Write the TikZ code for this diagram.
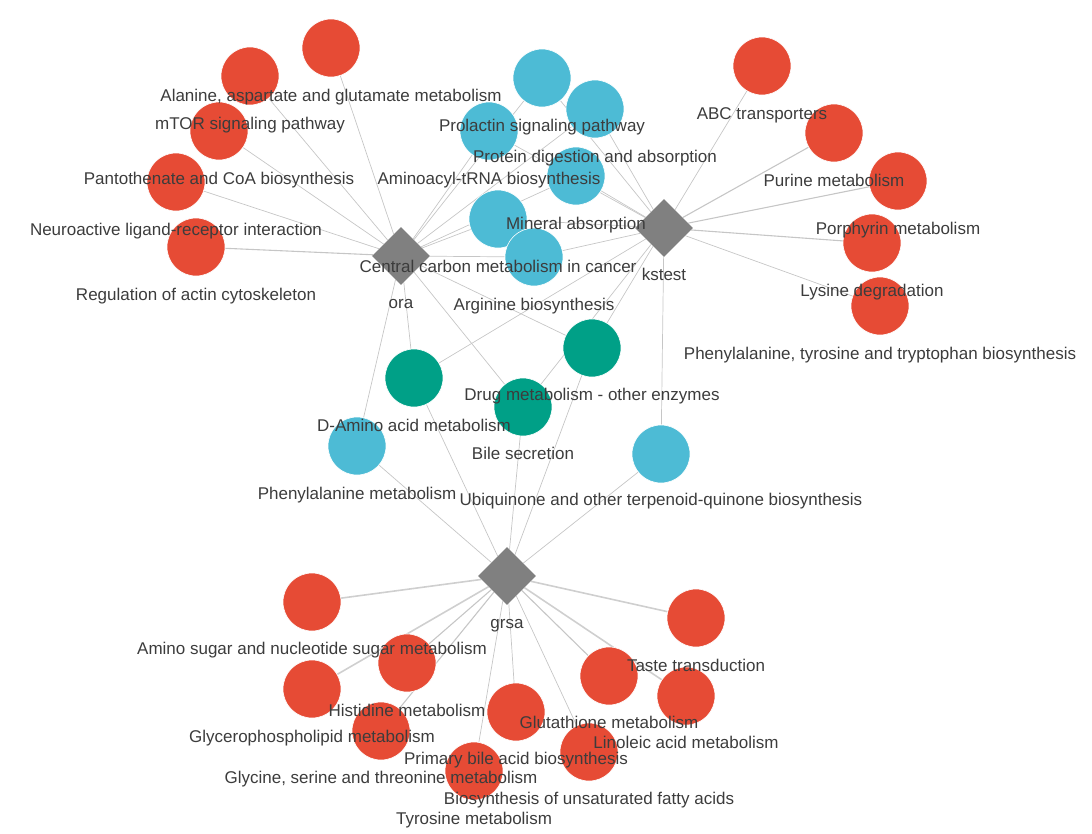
\documentclass[tikz,border=0pt]{standalone}
\usepackage{fontspec}
\setmainfont{Liberation Sans}
\usetikzlibrary{shapes.geometric, backgrounds}

\definecolor{npgred}{HTML}{E64B35}
\definecolor{npgblue}{HTML}{4DBBD5}
\definecolor{npggreen}{HTML}{00A087}
\definecolor{hubgray}{HTML}{808080}
\definecolor{txtgray}{HTML}{3C3C3C}
\definecolor{edgegray}{HTML}{C6C6C6}

\begin{document}
\begin{tikzpicture}[
  x=1pt, y=-1pt,
  font=\fontsize{17}{20}\selectfont,
  term/.style={circle, fill=#1, draw=white, line width=0.6pt,
               minimum size=58pt, inner sep=0pt},
  hub/.style={diamond, fill=hubgray, aspect=1, minimum size=58pt, inner sep=0pt},
  lbl/.style={text=txtgray, inner sep=0pt, text height=12pt, text depth=3.5pt},
  edge/.style={draw=edgegray, line width=0.7pt},
  edgem/.style={draw=edgegray, line width=1.1pt},
  edgew/.style={draw=edgegray!85, line width=1.6pt},
]
\useasboundingbox (0,0) rectangle (1092,833);

% ================= HUBS (explicit coords, px) =================
\node[hub]                (ora)     at (401,256)  {};
\node[hub]                (kstest)  at (664,228)  {};
\node[hub]                (grsa)    at (507,576)  {};

% ================= TERMS: ora only =================
\node[term=npgred]        (ala)     at (331,48)   {};
\node[term=npgred]        (mtor)    at (250,76)   {};
\node[term=npgred]        (panto)   at (219,131)  {};
\node[term=npgred]        (neuro)   at (176,182)  {};
\node[term=npgred]        (actin)   at (196,247)  {};

% ================= TERMS: ora + kstest =================
\node[term=npgblue]       (prl)     at (542,78)   {};
\node[term=npgblue]       (prot)    at (595,109)  {};
\node[term=npgblue]       (trna)    at (489,131)  {};
\node[term=npgblue]       (mineral) at (576,176)  {};
\node[term=npgblue]       (ccm)     at (498,219)  {};
\node[term=npgblue]       (arg)     at (534,257)  {};

% ================= TERMS: kstest only =================
\node[term=npgred]        (abc)     at (762,66)   {};
\node[term=npgred]        (purine)  at (834,133)  {};
\node[term=npgred]        (porph)   at (898,181)  {};
\node[term=npgred]        (lys)     at (872,243)  {};
\node[term=npgred]        (phetrp)  at (880,306)  {};

% ================= TERMS: shared by all three =================
\node[term=npggreen]      (damino)  at (414,378)  {};
\node[term=npggreen]      (drug)    at (592,348)  {};
\node[term=npggreen]      (bile)    at (523,407)  {};

% ================= TERMS: grsa + one other =================
\node[term=npgblue]       (phe)     at (357,446)  {};
\node[term=npgblue]       (ubiq)    at (661,454)  {};

% ================= TERMS: grsa only =================
\node[term=npgred]        (amino)   at (312,602)  {};
\node[term=npgred]        (taste)   at (696,618)  {};
\node[term=npgred]        (his)     at (407,663)  {};
\node[term=npgred]        (glycero) at (312,689)  {};
\node[term=npgred]        (gsh)     at (609,676)  {};
\node[term=npgred]        (linol)   at (686,696)  {};
\node[term=npgred]        (pbab)    at (516,712)  {};
\node[term=npgred]        (gly)     at (381,731)  {};
\node[term=npgred]        (ufa)     at (589,752)  {};
\node[term=npgred]        (tyr)     at (474,771)  {};

% ================= LABELS (about 48px under each node) =================
\node[lbl] (oraT)     at ([yshift=-48pt]ora)     {ora};
\node[lbl] (kstestT)  at ([yshift=-48pt]kstest)  {kstest};
\node[lbl] (grsaT)    at ([yshift=-48pt]grsa)    {grsa};

\node[lbl] (alaT)     at ([yshift=-49pt]ala)     {Alanine, aspartate and glutamate metabolism};
\node[lbl] (mtorT)    at ([yshift=-49pt]mtor)    {mTOR signaling pathway};
\node[lbl] (pantoT)   at ([yshift=-49pt]panto)   {Pantothenate and CoA biosynthesis};
\node[lbl] (neuroT)   at ([yshift=-49pt]neuro)   {Neuroactive ligand-receptor interaction};
\node[lbl] (actinT)   at ([yshift=-49pt]actin)   {Regulation of actin cytoskeleton};

\node[lbl] (prlT)     at ([yshift=-49pt]prl)     {Prolactin signaling pathway};
\node[lbl] (protT)    at ([yshift=-49pt]prot)    {Protein digestion and absorption};
\node[lbl] (trnaT)    at ([yshift=-49pt]trna)    {Aminoacyl-tRNA biosynthesis};
\node[lbl] (mineralT) at ([yshift=-49pt]mineral) {Mineral absorption};
\node[lbl] (ccmT)     at ([yshift=-49pt]ccm)     {Central carbon metabolism in cancer};
\node[lbl] (argT)     at ([yshift=-49pt]arg)     {Arginine biosynthesis};

\node[lbl] (abcT)     at ([yshift=-49pt]abc)     {ABC transporters};
\node[lbl] (purineT)  at ([yshift=-49pt]purine)  {Purine metabolism};
\node[lbl] (porphT)   at ([yshift=-49pt]porph)   {Porphyrin metabolism};
\node[lbl] (lysT)     at ([yshift=-49pt]lys)     {Lysine degradation};
\node[lbl] (phetrpT)  at ([yshift=-49pt]phetrp)  {Phenylalanine, tyrosine and tryptophan biosynthesis};

\node[lbl] (daminoT)  at ([yshift=-49pt]damino)  {D-Amino acid metabolism};
\node[lbl] (drugT)    at ([yshift=-48pt]drug)    {Drug metabolism - other enzymes};
\node[lbl] (bileT)    at ([yshift=-48pt]bile)    {Bile secretion};
\node[lbl] (pheT)     at ([yshift=-49pt]phe)     {Phenylalanine metabolism};
\node[lbl] (ubiqT)    at ([yshift=-47pt]ubiq)    {Ubiquinone and other terpenoid-quinone biosynthesis};

\node[lbl] (aminoT)   at ([yshift=-48pt]amino)   {Amino sugar and nucleotide sugar metabolism};
\node[lbl] (tasteT)   at ([yshift=-49pt]taste)   {Taste transduction};
\node[lbl] (hisT)     at ([yshift=-49pt]his)     {Histidine metabolism};
\node[lbl] (glyceroT) at ([yshift=-49pt]glycero) {Glycerophospholipid metabolism};
\node[lbl] (gshT)     at ([yshift=-48pt]gsh)     {Glutathione metabolism};
\node[lbl] (linolT)   at ([yshift=-48pt]linol)   {Linoleic acid metabolism};
\node[lbl] (pbabT)    at ([yshift=-48pt]pbab)    {Primary bile acid biosynthesis};
\node[lbl] (glyT)     at ([yshift=-48pt]gly)     {Glycine, serine and threonine metabolism};
\node[lbl] (ufaT)     at ([yshift=-48pt]ufa)     {Biosynthesis of unsaturated fatty acids};
\node[lbl] (tyrT)     at ([yshift=-49pt]tyr)     {Tyrosine metabolism};

% ================= EDGES (behind the nodes) =================
\begin{scope}[on background layer]
% ora
\draw[edge]  (ora) -- (ala);
\draw[edge]  (ora) -- (mtor);
\draw[edge]  (ora) -- (panto);
\draw[edge]  (ora) -- (neuro);
\draw[edgem] (ora) -- (actin);
\draw[edge]  (ora) -- (prl);
\draw[edge]  (ora) -- (prot);
\draw[edge]  (ora) -- (trna);
\draw[edge]  (ora) -- (mineral);
\draw[edge]  (ora) -- (ccm);
\draw[edge]  (ora) -- (arg);
\draw[edge]  (ora) -- (damino);
\draw[edge]  (ora) -- (drug);
\draw[edge]  (ora) -- (bile);
\draw[edge]  (ora) -- (phe);

% kstest
\draw[edge]  (kstest) -- (abc);
\draw[edgem] (kstest) -- (purine);
\draw[edgem] (kstest) -- (porph);
\draw[edgem] (kstest) -- (lys);
\draw[edge]  (kstest) -- (phetrp);
\draw[edge]  (kstest) -- (prl);
\draw[edge]  (kstest) -- (prot);
\draw[edge]  (kstest) -- (trna);
\draw[edge]  (kstest) -- (mineral);
\draw[edge]  (kstest) -- (ccm);
\draw[edge]  (kstest) -- (arg);
\draw[edge]  (kstest) -- (damino);
\draw[edge]  (kstest) -- (drug);
\draw[edge]  (kstest) -- (bile);
\draw[edge]  (kstest) -- (ubiq);

% grsa
\draw[edge]  (grsa) -- (phe);
\draw[edge]  (grsa) -- (damino);
\draw[edge]  (grsa) -- (bile);
\draw[edge]  (grsa) -- (drug);
\draw[edge]  (grsa) -- (ubiq);
\draw[edgew] (grsa) -- (amino);
\draw[edgew] (grsa) -- (taste);
\draw[edgem] (grsa) -- (his);
\draw[edgew] (grsa) -- (glycero);
\draw[edgem] (grsa) -- (gsh);
\draw[edgew] (grsa) -- (linol);
\draw[edge]  (grsa) -- (pbab);
\draw[edgem] (grsa) -- (gly);
\draw[edge]  (grsa) -- (ufa);
\draw[edge]  (grsa) -- (tyr);
\end{scope}

\end{tikzpicture}
\end{document}
